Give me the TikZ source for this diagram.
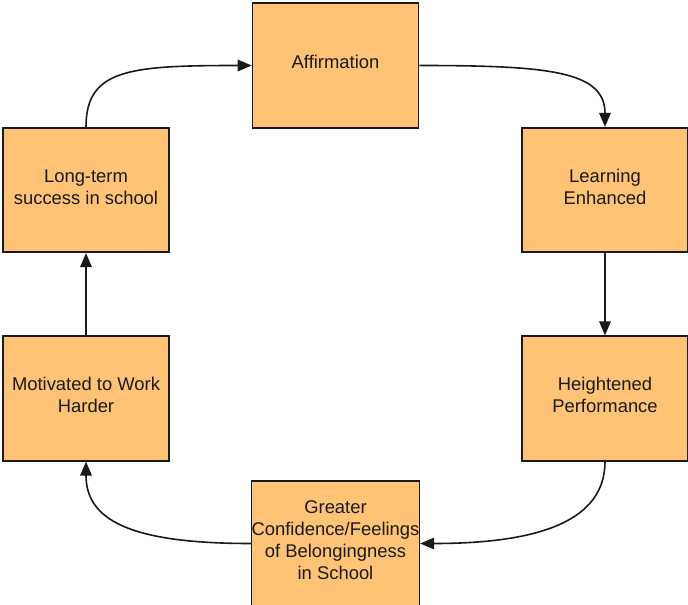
\documentclass[tikz,border=0pt]{standalone}
\usepackage{fontspec}
\setmainfont{Liberation Sans}
\usetikzlibrary{arrows.meta}
\definecolor{boxfill}{RGB}{254,195,116}
\definecolor{ink}{RGB}{26,26,26}
\tikzset{
  stagebox/.style={draw=ink, line width=1.6pt, fill=boxfill, minimum width=166pt,
    minimum height=124.5pt, inner sep=0pt, align=center, text=ink,
    font=\fontsize{18.4}{22}\selectfont,
    execute at end node={\rule[-6.5pt]{0pt}{6.5pt}}},
  flow/.style={draw=ink, line width=1.6pt, -{Triangle[length=14pt,width=11.5pt]}}
}
\begin{document}
\begin{tikzpicture}[x=1pt,y=-1pt]
\useasboundingbox (0,0) rectangle (688,605);
\node[stagebox] (aff) at (335.5,65.5) {Affirmation};
\node[stagebox] (learn) at (605,190) {Learning\\Enhanced};
\node[stagebox] (perf) at (605,398.5) {Heightened\\Performance};
\node[stagebox] (conf) at (335.5,543.5) {Greater\\Confidence/Feelings\\of Belongingness\\in School};
\node[stagebox] (motiv) at (86,398.5) {Motivated to Work\\Harder};
\node[stagebox] (long) at (86,190) {Long-term\\success in school};

\draw[flow] (long.north) .. controls +(0,-58) and +(-122,0) .. (aff.west);
\draw[flow] (aff.east) .. controls +(129,0) and +(0,-56) .. (learn.north);
\draw[flow] (learn.south) -- (perf.north);
\draw[flow] (perf.south) .. controls +(0,58) and +(122,0) .. (conf.east);
\draw[flow] (conf.west) .. controls +(-122,0) and +(0,58) .. (motiv.south);
\draw[flow] (motiv.north) -- (long.south);
\end{tikzpicture}
\end{document}
